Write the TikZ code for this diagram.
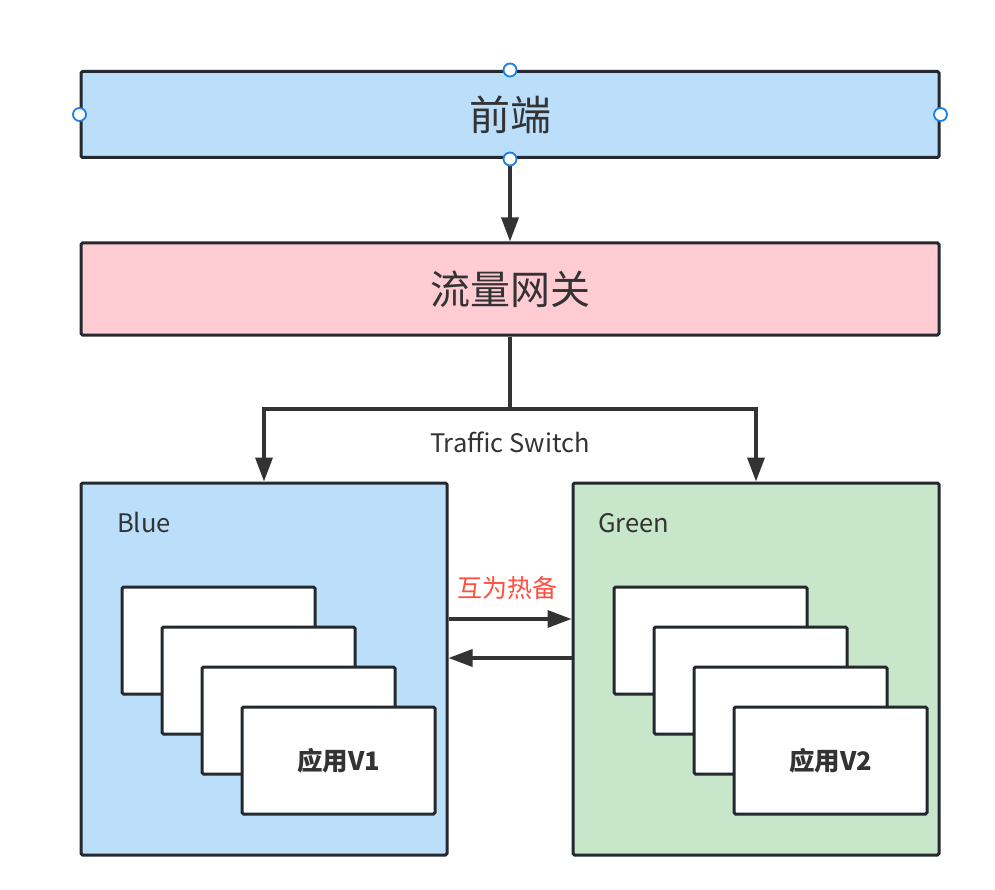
\documentclass[tikz,border=0pt]{standalone}
\usepackage{fontspec}
\setmainfont{Noto Sans CJK SC}
\newfontfamily\cjk{Noto Sans CJK SC}
\usetikzlibrary{arrows.meta}
\definecolor{edge}{HTML}{23292F}
\definecolor{ink}{HTML}{333333}
\definecolor{lblue}{HTML}{BBDEFA}
\definecolor{lpink}{HTML}{FFCCD3}
\definecolor{lgreen}{HTML}{C8E6CA}
\definecolor{handle}{HTML}{1A7FE8}
\definecolor{redtxt}{HTML}{FF4D3F}
\tikzset{
  box/.style={draw=edge, line width=3pt, rounded corners=1.5pt, inner sep=0pt, text=ink},
  card/.style={box, fill=white, minimum width=193pt, minimum height=107pt},
  conn/.style={draw=ink, line width=3.5pt},
  arr/.style={conn, -{Triangle[length=24pt,width=17pt]}},
  hdl/.style={circle, draw=handle, fill=white, line width=1.8pt, minimum size=13pt, inner sep=0pt},
  lbl/.style={text=ink, inner sep=0pt, font=\cjk\fontsize{25.5}{30}\selectfont},
}
\begin{document}
\begin{tikzpicture}[x=1pt,y=-1pt]
\useasboundingbox (0,0) rectangle (995,890);
\node[box, fill=lblue, minimum width=858pt, minimum height=86pt, font=\cjk\fontsize{41}{48}\selectfont] (fe) at (510,114.5) {前端};
\node[box, fill=lpink, minimum width=858pt, minimum height=92pt, font=\cjk\fontsize{40}{46}\selectfont] (gw) at (510,289) {流量网关};
\node[box, fill=lblue, minimum width=366pt, minimum height=372pt] (blue) at (264,669) {};
\node[box, fill=lgreen, minimum width=366pt, minimum height=372pt] (green) at (756,669) {};
% cards
\foreach \i in {0,1,2} {
  \node[card] (b\i) at (218.5+40*\i,640.5+40*\i) {};
  \node[card] (g\i) at (710.5+40*\i,640.5+40*\i) {};
}
\node[card, font=\cjk\bfseries\fontsize{25.5}{30}\selectfont] (b3) at (338.5,760.5) {应用V1};
\node[card, font=\cjk\bfseries\fontsize{25.5}{30}\selectfont] (g3) at (830.5,760.5) {应用V2};
% labels
\node[lbl, anchor=west] (bl) at (117,523) {Blue};
\node[lbl, anchor=west] (gl) at (598,523) {Green};
\node[lbl] (ts) at (510,442) {Traffic Switch};
\node[lbl, text=redtxt, font=\cjk\fontsize{25}{30}\selectfont] (hb) at (507,588) {互为热备};
% connectors
\coordinate (sw) at (510,409);
\draw[arr] (fe.south) -- (gw.north);
\draw[conn] (gw.south) -- (sw);
\draw[arr] (sw) -| (blue.north);
\draw[arr] (sw) -| (green.north);
\draw[arr] (blue.east |- 0,619) -- (green.west |- 0,619);
\draw[arr] (green.west |- 0,658) -- (blue.east |- 0,658);
% handles
\node[hdl] (h1) at (fe.north) {};
\node[hdl] (h2) at (fe.south) {};
\node[hdl] (h3) at (fe.west) {};
\node[hdl] (h4) at (fe.east) {};
\end{tikzpicture}
\end{document}
